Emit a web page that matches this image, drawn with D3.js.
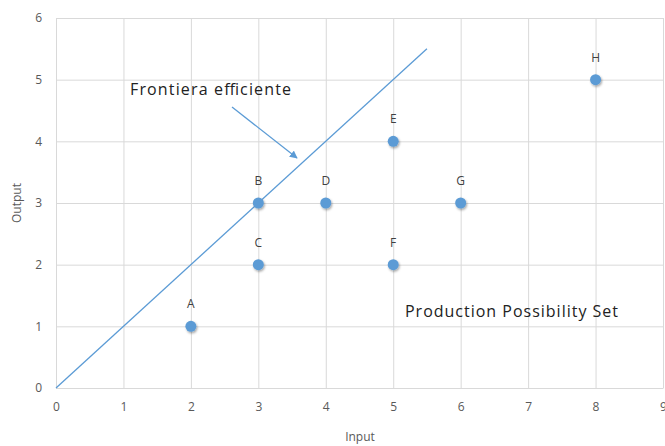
<!DOCTYPE html>
<html>
<head>
<meta charset="utf-8">
<script src="https://cdn.jsdelivr.net/npm/d3@7"></script>
<style>
  body { margin: 0; background: #fff; }
  text { font-family: "Open Sans", "Liberation Sans", sans-serif; }
</style>
</head>
<body>
<svg id="chart" width="665" height="446"></svg>
<script>
// DMU data
const labels = ['A', 'B', 'C', 'D', 'E', 'F', 'G', 'H'];
const inputs = [2, 3, 3, 4, 5, 5, 6, 8];
const outputs = [1, 3, 2, 3, 4, 2, 3, 5];
const frontier = [[0, 0], [5.5, 5.5]];
const xTicks = [0, 1, 2, 3, 4, 5, 6, 7, 8, 9];
const yTicks = [0, 1, 2, 3, 4, 5, 6];

const svg = d3.select('#chart');
const x = d3.scaleLinear().domain([0, 9]).range([56, 663]);
const y = d3.scaleLinear().domain([0, 6]).range([388, 18]);

// drop shadow for markers
const defs = svg.append('defs');
const f = defs.append('filter').attr('id', 'shadow')
  .attr('x', '-50%').attr('y', '-50%').attr('width', '200%').attr('height', '200%');
f.append('feDropShadow').attr('dx', 1).attr('dy', 1.5).attr('stdDeviation', 1.3)
  .attr('flood-color', '#000').attr('flood-opacity', 0.35);
defs.append('marker').attr('id', 'arrow')
  .attr('viewBox', '0 0 10 10').attr('refX', 9).attr('refY', 5)
  .attr('markerWidth', 6).attr('markerHeight', 6).attr('orient', 'auto')
  .append('path').attr('d', 'M0,0 L10,5 L0,10 z').attr('fill', '#5B9BD5');

// grid
svg.append('g').attr('transform', 'translate(0,388)')
  .call(d3.axisBottom(x).tickValues(xTicks).tickSize(-370).tickFormat(''))
  .call(g => g.select('.domain').remove())
  .selectAll('line').attr('stroke', '#d9d9d9');
svg.append('g').attr('transform', 'translate(56,0)')
  .call(d3.axisLeft(y).tickValues(yTicks).tickSize(-607).tickFormat(''))
  .call(g => g.select('.domain').remove())
  .selectAll('line').attr('stroke', '#d9d9d9');

// tick labels
const xAxis = svg.append('g').attr('transform', 'translate(0,388)')
  .call(d3.axisBottom(x).tickValues(xTicks).tickSize(0).tickPadding(14).tickFormat(d3.format('d')));
xAxis.select('.domain').attr('stroke', '#d9d9d9');
xAxis.selectAll('text').attr('fill', '#595959').style('font-size', '12px');
const yAxis = svg.append('g').attr('transform', 'translate(56,0)')
  .call(d3.axisLeft(y).tickValues(yTicks).tickSize(0).tickPadding(14).tickFormat(d3.format('d')));
yAxis.select('.domain').remove();
yAxis.selectAll('text').attr('fill', '#595959').style('font-size', '12px');

// axis titles
svg.append('text').attr('x', 360).attr('y', 441).attr('text-anchor', 'middle')
  .attr('fill', '#595959').style('font-size', '12px').text('Input');
svg.append('text').attr('transform', 'translate(21,203) rotate(-90)')
  .attr('text-anchor', 'middle').attr('fill', '#595959').style('font-size', '12px').text('Output');

// frontier line
svg.append('path')
  .attr('d', d3.line().x(d => x(d[0])).y(d => y(d[1]))(frontier))
  .attr('fill', 'none').attr('stroke', '#5B9BD5').attr('stroke-width', 1.3);

// points
const data = labels.map((l, i) => ({ label: l, input: inputs[i], output: outputs[i] }));
svg.append('g').selectAll('circle').data(data).join('circle')
  .attr('cx', d => x(d.input)).attr('cy', d => y(d.output)).attr('r', 5.5)
  .attr('fill', '#5B9BD5').attr('filter', 'url(#shadow)');
svg.append('g').selectAll('text').data(data).join('text')
  .attr('x', d => x(d.input)).attr('y', d => y(d.output) - 18)
  .attr('text-anchor', 'middle').attr('fill', '#404040').style('font-size', '12px')
  .text(d => d.label);

// annotations
svg.append('text').attr('x', 130).attr('y', 95).attr('fill', '#222')
  .style('font-size', '16px').attr('textLength', 161).attr('lengthAdjust', 'spacing')
  .text('Frontiera efficiente');
svg.append('line').attr('x1', 232).attr('y1', 107).attr('x2', 297).attr('y2', 158)
  .attr('stroke', '#5B9BD5').attr('stroke-width', 1.3).attr('marker-end', 'url(#arrow)');
svg.append('text').attr('x', 405).attr('y', 317).attr('fill', '#222')
  .style('font-size', '16px').attr('textLength', 213).attr('lengthAdjust', 'spacing')
  .text('Production Possibility Set');
</script>
</body>
</html>
